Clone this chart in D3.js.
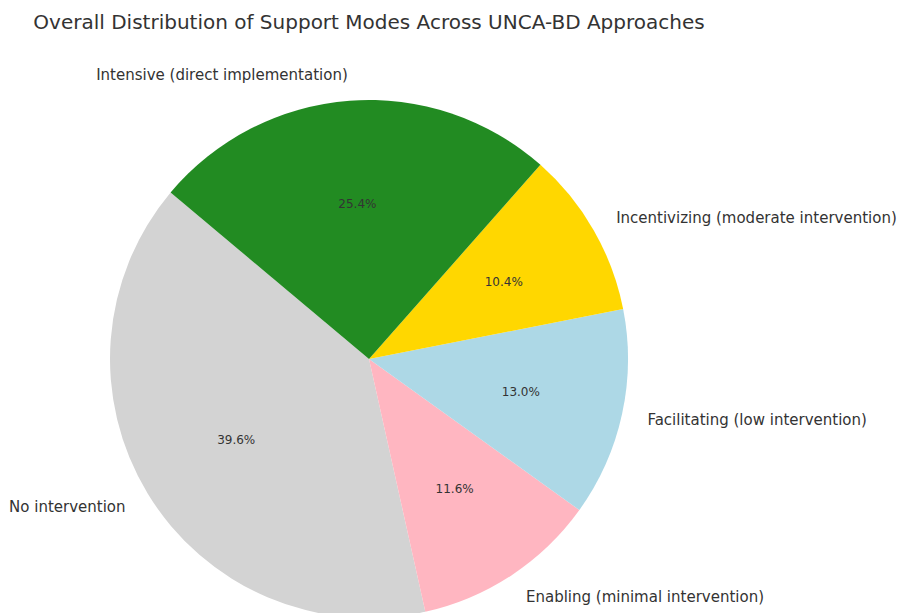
<!DOCTYPE html>
<html>
<head>
<meta charset="utf-8">
<script src="https://cdn.jsdelivr.net/npm/d3@7"></script>
<style>
  body { margin: 0; background: #fff; }
  text { font-family: "DejaVu Sans", sans-serif; fill: #333; }
</style>
</head>
<body>
<script>
// 数据
const categories = ['No intervention', 'Enabling (minimal intervention)', 'Facilitating (low intervention)',
    'Incentivizing (moderate intervention)', 'Intensive (direct implementation)'];
const shares = [39.6, 11.6, 13.0, 10.4, 25.4];
const colors = ['#d3d3d3', '#ffb6c1', '#add8e6', '#ffd700', '#228b22'];

// 画布大小
const width = 899;
const height = 613;
const cx = 369, cy = 359, radius = 259;
const start_angle = 140; // matplotlib 风格起始角, 逆时针

const svg = d3.select('body').append('svg')
    .attr('width', width)
    .attr('height', height);

svg.append('text')
    .attr('x', cx)
    .attr('y', 29)
    .attr('text-anchor', 'middle')
    .attr('font-size', 20)
    .text('Overall Distribution of Support Modes Across UNCA-BD Approaches');

// 逆时针角度, 转换成 d3 的顺时针(从12点开始)
const total = d3.sum(shares);
const deg = d3.scaleLinear().domain([0, total]).range([0, 360]);
let acc = 0;
const slices = shares.map((v, i) => {
    const a0 = start_angle + deg(acc);
    acc += v;
    const a1 = start_angle + deg(acc);
    return {i, v, a0, a1};
});
const toD3 = a => (90 - a) * Math.PI / 180;
const arc = d3.arc().innerRadius(0).outerRadius(radius);

const g = svg.append('g').attr('transform', `translate(${cx},${cy})`);
g.selectAll('path')
    .data(slices).enter()
    .append('path')
    .attr('fill', d => colors[d.i])
    .attr('d', d => arc({startAngle: toD3(d.a1), endAngle: toD3(d.a0)}));

// 标签
slices.forEach(d => {
    const mid = (d.a0 + d.a1) / 2 * Math.PI / 180;
    const x = Math.cos(mid), y = -Math.sin(mid);
    g.append('text')
        .attr('x', x * radius * 1.1)
        .attr('y', y * radius * 1.1)
        .attr('dy', '0.35em')
        .attr('text-anchor', x < 0 ? 'end' : 'start')
        .attr('font-size', 15)
        .text(categories[d.i]);
    g.append('text')
        .attr('x', x * radius * 0.6)
        .attr('y', y * radius * 0.6)
        .attr('dy', '0.35em')
        .attr('text-anchor', 'middle')
        .attr('font-size', 12)
        .text(d3.format('.1f')(d.v) + '%');
});
</script>
</body>
</html>
